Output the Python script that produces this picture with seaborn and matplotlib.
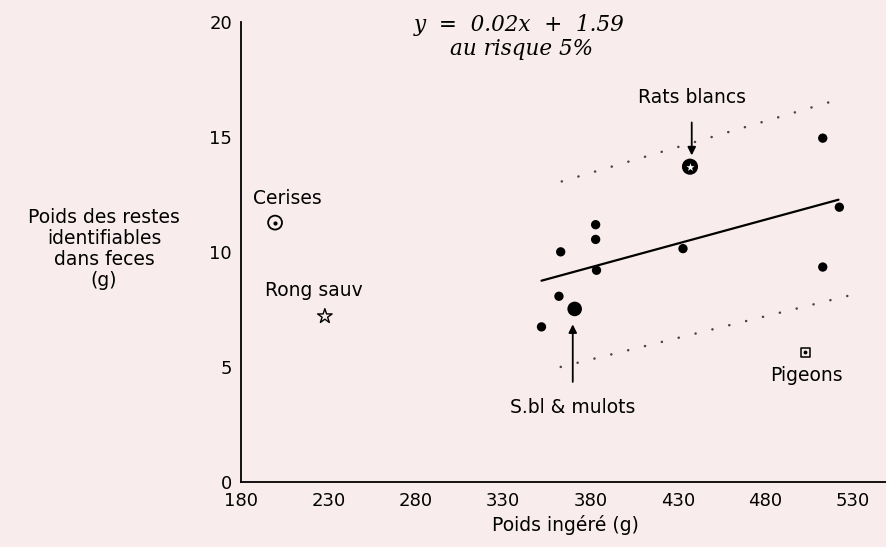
import numpy as np
import pandas as pd
import matplotlib
matplotlib.use("Agg")
import matplotlib.pyplot as plt
import seaborn as sns

# ---------------- data ----------------
dots_x = [352, 362, 363, 383, 383, 383.5, 433, 513, 513, 522.5]
dots_y = [6.74, 8.07, 10.0, 11.18, 10.54, 9.2, 10.14, 14.94, 9.34, 11.94]

sbl_x, sbl_y = [371], [7.52]          # S.bl & mulots
rats_x, rats_y = [437], [13.7]        # Rats blancs
cer_x, cer_y = [199.5], [11.27]       # Cerises
rong_x, rong_y = [228], [7.2]         # Rong sauv
pig_x, pig_y = [503], [5.63]          # Pigeons

reg_x = [352, 522]
reg_slope, reg_icpt = 0.0207, 1.46
up_x, up_y = [363.6, 523.3], [13.06, 16.65]
lo_x, lo_y = [363, 532.8], [5.0, 8.19]

x_ticks = [180, 230, 280, 330, 380, 430, 480, 530]
y_ticks = [0, 5, 10, 15, 20]

# ---------------- style ----------------
BG = "#f9ecec"
sns.set_theme(style="white", rc={"figure.facecolor": BG, "axes.facecolor": BG,
                                 "text.color": "black"})
plt.rcParams["font.family"] = ["DejaVu Sans"]
plt.rcParams["lines.scale_dashes"] = False

W, H = 886, 547
fig = plt.figure(figsize=(W / 100, H / 100), dpi=100)
ax = fig.add_axes([241 / W, 1 - 482 / H, 1 - 241 / W, (482 - 21.7) / H])

df = pd.DataFrame({"x": dots_x, "y": dots_y})
sns.scatterplot(data=df, x="x", y="y", ax=ax, color="black", s=45,
                edgecolor="none", zorder=4)
sns.scatterplot(x=sbl_x, y=sbl_y, ax=ax, color="black", s=110,
                edgecolor="none", zorder=4)
# Rats blancs: black ring with white star
sns.scatterplot(x=rats_x, y=rats_y, ax=ax, color="black", s=135,
                edgecolor="none", zorder=4)
ax.scatter(rats_x, rats_y, marker="*", s=38, color="white", zorder=5,
           linewidths=0)
# Cerises: open circle with dot
ax.scatter(cer_x, cer_y, marker="o", s=100, facecolors="none",
           edgecolors="black", linewidths=1.3, zorder=4)
ax.scatter(cer_x, cer_y, marker="o", s=4, color="black", zorder=5)
# Rong sauv: open star
ax.scatter(rong_x, rong_y, marker="*", s=120, facecolors="none",
           edgecolors="black", linewidths=1.0, zorder=4)
# Pigeons: open square with dot
ax.scatter(pig_x, pig_y, marker="s", s=45, facecolors="none",
           edgecolors="black", linewidths=1.1, zorder=4)
ax.scatter(pig_x, pig_y, marker="o", s=3, color="black", zorder=5)

# regression line
rx = np.array(reg_x)
sns.lineplot(x=rx, y=reg_slope * rx + reg_icpt, ax=ax, color="black", lw=1.6)
# confidence bands (sparse dots)
for bx, by in [(up_x, up_y), (lo_x, lo_y)]:
    ax.plot(bx, by, color="#444444", lw=1.8, ls=(0, (0.1, 12.4)),
            dash_capstyle="round")

ax.set_xlim(180, 180 + (W - 241) / 1.747)
ax.set_ylim(0, 20)
ax.set_xticks(x_ticks)
ax.set_yticks(y_ticks)
ax.tick_params(direction="inout", length=9, width=1.1, colors="black",
               labelsize=13, pad=2)
ax.tick_params(axis="x", pad=3)
for s in ["top", "right"]:
    ax.spines[s].set_visible(False)
for s in ["left", "bottom"]:
    ax.spines[s].set_color("black")
    ax.spines[s].set_linewidth(1.3)
ax.set_xlabel("")
ax.set_ylabel("")

FS = 13.5
fig.text(565 / W, 1 - 525 / H, "Poids ingéré (g)", ha="center", va="center",
         fontsize=FS, color="black")
fig.text(104 / W, 1 - 249 / H, "Poids des restes\nidentifiables\ndans feces\n(g)",
         ha="center", va="center", fontsize=FS, linespacing=1.15, color="black")

eq_font = dict(family="DejaVu Serif", style="italic", fontsize=15.5,
               color="black")
fig.text(519 / W, 1 - 25 / H, "y  =  0.02x  +  1.59", ha="center",
         va="center", **eq_font)
fig.text(521 / W, 1 - 49 / H, "au risque 5%", ha="center", va="center",
         **eq_font)

lab = dict(fontsize=FS, color="black")
ax.text(186.9, 12.32, "Cerises", ha="left", va="center", **lab)
ax.text(193.7, 8.33, "Rong sauv", ha="left", va="center", **lab)
ax.text(503.4, 4.64, "Pigeons", ha="center", va="center", **lab)
ax.annotate("Rats blancs", xy=(438, 14.19), xytext=(438, 16.72),
            ha="center", va="center", **lab,
            arrowprops=dict(arrowstyle="-|>", color="black", lw=1.3,
                            mutation_scale=12, shrinkA=9, shrinkB=0))
ax.annotate("S.bl & mulots", xy=(369.9, 6.85), xytext=(369.9, 3.25),
            ha="center", va="center", **lab,
            arrowprops=dict(arrowstyle="-|>", color="black", lw=1.3,
                            mutation_scale=12, shrinkA=9, shrinkB=0))

fig.savefig("out.png", dpi=100, facecolor=BG)
